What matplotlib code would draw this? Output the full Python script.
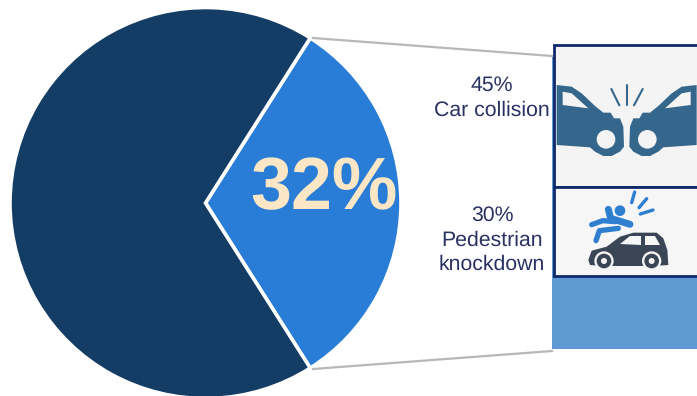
import numpy as np
import matplotlib
matplotlib.use('Agg')
import matplotlib.pyplot as plt
from matplotlib.patches import Polygon, Circle, Rectangle

plt.rcParams['font.family'] = ['Liberation Sans', 'DejaVu Sans']
plt.rcParams['text.hinting'] = 'no_hinting'

pie_values = [32, 68]
pie_colors = ['#2a7dd6', '#143d66']
pie_label = '32%'

bar_values = [45, 30, 25]
bar_colors = ['#5f9bd2', '#5f9bd2', '#5f9bd2']
bar_labels = ['45%\nCar collision', '30%\nPedestrian\nknockdown']

fig = plt.figure(figsize=(6.97, 3.96), dpi=100)
ax = fig.add_axes([0, 0, 1, 1])

# main pie, the highlighted slice is centred on the right
cx, cy, r = 205.5, 203, 195.5
start = -pie_values[0] / 100 * 360 / 2
ax.pie(pie_values, colors=pie_colors, startangle=start, center=(cx, cy), radius=r,
       wedgeprops={'edgecolor': 'white', 'linewidth': 2.6}, frame=True)
ax.set_xlim(0, 697)
ax.set_ylim(396, 0)
ax.set_aspect('auto')
ax.axis('off')
ax.text(323.5, 182, pie_label, color='#fbe7c6', fontsize=53, fontweight='bold',
        ha='center', va='center_baseline')

# stacked bar breaking down the slice
bar_top, bar_bottom = 57, 349
scale = (bar_bottom - bar_top) / sum(bar_values)
pos = bar_top
for v, c in zip(bar_values, bar_colors):
    ax.bar(700, v * scale, width=296, bottom=pos, color=c, linewidth=0, zorder=2)
    pos += v * scale

# connectors from the slice to the bar
ax.plot([313, 552], [38, 56], color='#b8b8b8', lw=1.6, zorder=1)
ax.plot([313, 552], [369, 351], color='#b8b8b8', lw=1.6, zorder=1)

# picture boxes over the first two segments
navy = '#10296a'
ax.add_patch(Rectangle((554, 45), 150, 142, facecolor='#f4f4f4', edgecolor=navy, lw=2, zorder=3))
ax.add_patch(Rectangle((554, 187), 150, 89, facecolor='#f6f6f6', edgecolor=navy, lw=2, zorder=3))


def icon_pts(pts, ox, oy):
    # icon outlines are written at 3 units per pixel
    a = np.array(pts, dtype=float) / 3
    a[:, 0] += ox
    a[:, 1] += oy
    return a


def poly(pts, ox, oy, color, z=4):
    ax.add_patch(Polygon(icon_pts(pts, ox, oy), closed=True, facecolor=color, edgecolor='none', zorder=z))


def stroke(pts, ox, oy, color, lw, z=4):
    a = icon_pts(pts, ox, oy)
    ax.plot(a[:, 0], a[:, 1], color=color, lw=lw, solid_capstyle='round',
            solid_joinstyle='round', zorder=z)


def disc(x, y, rad, ox, oy, color, z=5):
    ax.add_patch(Circle((x / 3 + ox, y / 3 + oy), rad / 3, facecolor=color, edgecolor='none', zorder=z))


# collision icon, two cars nose to nose
crash = '#35678c'
car_body = [(50, 165), (95, 170), (125, 190), (165, 228), (190, 248), (212, 248), (222, 265),
            (240, 265), (250, 290), (252, 350), (240, 365), (215, 378), (190, 378), (165, 365),
            (150, 352), (50, 345)]
car_glass = [(68, 185), (95, 190), (145, 235), (68, 225)]
ox, oy = 540, 30
for mirror in [False, True]:
    body = [(520 - x, y) if mirror else (x, y) for x, y in car_body]
    glass = [(520 - x, y) if mirror else (x, y) for x, y in car_glass]
    poly(body, ox, oy, crash)
    poly(glass, ox, oy, '#f4f4f4', z=5)
    disc(322 if mirror else 198, 328, 28, ox, oy, '#f4f4f4')
stroke([(214, 177), (238, 226)], ox, oy, crash, 1.5)
stroke([(260, 164), (260, 224)], ox, oy, crash, 1.5)
stroke([(308, 177), (282, 226)], ox, oy, crash, 1.5)

# knockdown icon, a person thrown over a car
ox, oy = 540, 180
car_dark = '#3a4656'
person = '#2e7fd0'
poly([(145, 240), (155, 212), (200, 200), (240, 170), (280, 158), (350, 158), (370, 175),
      (382, 210), (385, 255), (340, 258), (190, 258), (150, 255)], ox, oy, car_dark)
poly([(240, 192), (270, 168), (303, 168), (303, 195)], ox, oy, '#f6f6f6', z=5)
poly([(315, 168), (345, 168), (360, 195), (315, 195)], ox, oy, '#f6f6f6', z=5)
for wx in [192, 335]:
    disc(wx, 243, 29, ox, oy, '#f6f6f6')
    disc(wx, 243, 22, ox, oy, car_dark, z=6)
    disc(wx, 243, 9, ox, oy, '#f6f6f6', z=7)
disc(240, 92, 16, ox, oy, person)
stroke([(205, 88), (212, 115), (270, 133)], ox, oy, person, 5)
stroke([(155, 134), (188, 122), (225, 125)], ox, oy, person, 3.8)
stroke([(168, 182), (178, 152), (235, 145)], ox, oy, person, 3.8)
stroke([(284, 36), (275, 68)], ox, oy, person, 2.4)
stroke([(320, 56), (297, 83)], ox, oy, person, 2.4)
stroke([(339, 90), (301, 102)], ox, oy, person, 2.4)

# labels next to the boxes
ax.text(492, 98, bar_labels[0], color='#2a3163', fontsize=15.3, ha='center', va='center',
        linespacing=1.32)
ax.text(492, 240, bar_labels[1], color='#2a3163', fontsize=15.3, ha='center', va='center',
        linespacing=1.32)

fig.savefig('out.png', dpi=100, facecolor='white')
